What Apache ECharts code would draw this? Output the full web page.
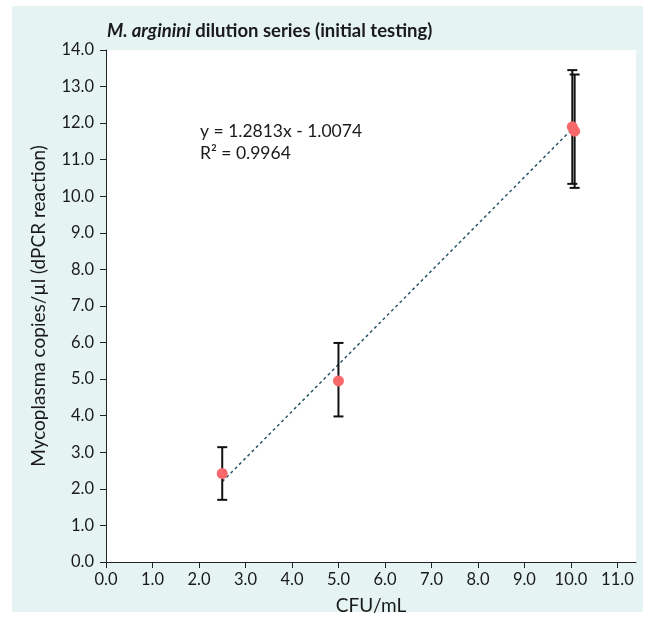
<!DOCTYPE html>
<html><head><meta charset="utf-8">
<script src="https://cdn.jsdelivr.net/npm/echarts@6/dist/echarts.min.js"></script>
<style>html,body{margin:0;padding:0;background:#fff}#c{width:654px;height:621px}</style>
</head><body><div id="c"></div>
<script>
// Data points: [CFU/mL, copies/µl]
var pointsX = [2.5, 5.0, 10.03, 10.08];
var pointsY = [2.42, 4.95, 11.90, 11.78];
var errLow  = [1.70, 3.98, 10.34, 10.23];
var errHigh = [3.14, 5.99, 13.45, 13.33];
// Trendline y = 1.2813x - 1.0074 endpoints
var trendX = [2.5, 10.05];
var trendY = [2.196, 11.870];
var xTicks = ['0.0','1.0','2.0','3.0','4.0','5.0','6.0','7.0','8.0','9.0','10.0','11.0'];

var FONT = 'Lato, "Open Sans", sans-serif';
var chart = echarts.init(document.getElementById('c'));
var scatterData = pointsX.map(function(x,i){return [x, pointsY[i]];});
var errData = pointsX.map(function(x,i){return [x, errLow[i], errHigh[i]];});
var trendData = trendX.map(function(x,i){return [x, trendY[i]];});

chart.setOption({
  backgroundColor: '#fff',
  animation: false,
  graphic: [
    {type:'rect', z:-100, silent:true, shape:{x:12,y:6,width:631,height:606}, style:{fill:'#e5f4f3'}},
    {type:'text', left:107, top:22, style:{rich:{i:{fontFamily:FONT,fontSize:18.5,fontWeight:'bold',fontStyle:'italic',fill:'#1a1a1a'},b:{fontFamily:FONT,fontSize:18.5,fontWeight:'bold',fill:'#1a1a1a'}}, text:'{i|M. arginini}{b| dilution series (initial testing)}'}},
    {type:'text', left:200, top:120, style:{text:'y = 1.2813x - 1.0074\nR² = 0.9964', fontFamily:FONT, fontSize:17.5, lineHeight:22, fill:'#1a1a1a'}}
  ],
  grid: {left:106, right:18, top:50, bottom:59, show:true, backgroundColor:'#fff', borderWidth:0},
  xAxis: {
    type:'value', min:0, max:11.4, interval:1,
    name:'CFU/mL', nameLocation:'middle', nameGap:34,
    nameTextStyle:{fontFamily:FONT,fontSize:19,color:'#1a1a1a'},
    axisLine:{show:true,onZero:false,lineStyle:{color:'#222',width:1}},
    axisTick:{show:true,length:6,lineStyle:{color:'#222'}},
    splitLine:{show:false},
    axisLabel:{fontFamily:FONT,fontSize:16.5,color:'#1a1a1a',margin:9,showMaxLabel:false,
      formatter:function(v){var i=Math.round(v);return Math.abs(v-i)<1e-6 && xTicks[i]!==undefined?xTicks[i]:'';}}
  },
  yAxis: {
    type:'value', min:0, max:14, interval:1,
    name:'Mycoplasma copies/µl (dPCR reaction)', nameLocation:'middle', nameGap:58,
    nameTextStyle:{fontFamily:FONT,fontSize:19,color:'#1a1a1a'},
    axisLine:{show:true,onZero:false,lineStyle:{color:'#222',width:1}},
    axisTick:{show:true,length:6,lineStyle:{color:'#222'}},
    splitLine:{show:false},
    axisLabel:{fontFamily:FONT,fontSize:16.5,color:'#1a1a1a',margin:12,formatter:function(v){return v.toFixed(1);}}
  },
  series: [
    {type:'line', data:trendData, symbol:'none', z:2,
     lineStyle:{color:'#2a5468',width:1.5,type:[3,3]}},
    {type:'custom', z:3, data:errData,
     renderItem:function(params, api){
       var x=api.value(0), lo=api.value(1), hi=api.value(2);
       var p1=api.coord([x,lo]), p2=api.coord([x,hi]);
       var w=5;
       var st={stroke:'#111',lineWidth:2};
       return {type:'group',children:[
         {type:'line',shape:{x1:p1[0],y1:p1[1],x2:p2[0],y2:p2[1]},style:st},
         {type:'line',shape:{x1:p1[0]-w,y1:p1[1],x2:p1[0]+w,y2:p1[1]},style:st},
         {type:'line',shape:{x1:p2[0]-w,y1:p2[1],x2:p2[0]+w,y2:p2[1]},style:st}
       ]};
     }},
    {type:'scatter', z:4, data:scatterData, symbol:'circle', symbolSize:11,
     itemStyle:{color:'#f8696b',opacity:1}}
  ]
});
</script></body></html>
